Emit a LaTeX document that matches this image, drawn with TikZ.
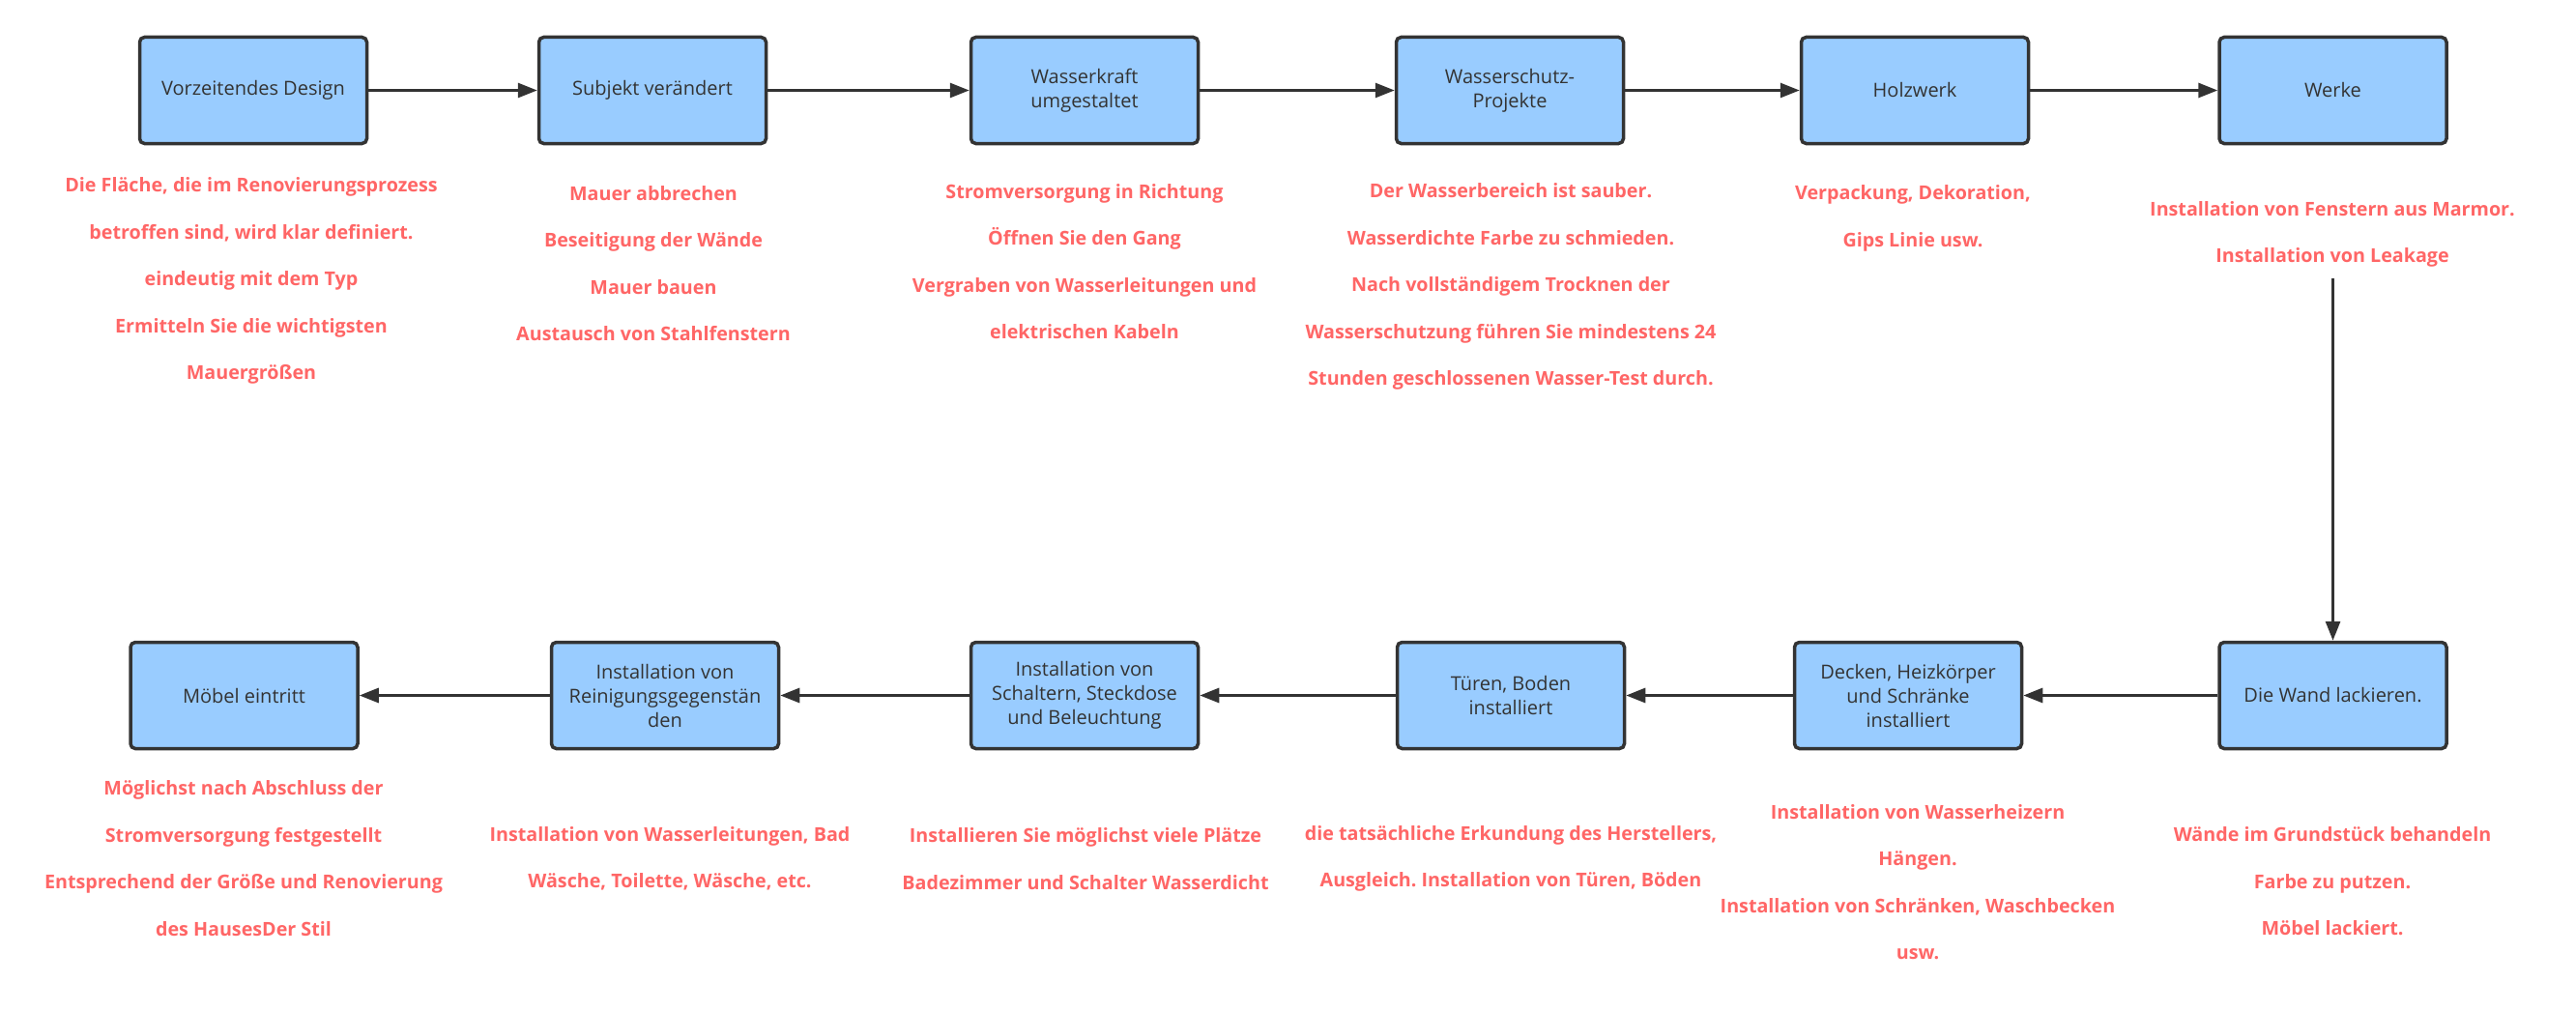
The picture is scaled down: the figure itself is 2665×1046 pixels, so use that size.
\documentclass[tikz,border=0pt]{standalone}
\usepackage{fontspec}
\setmainfont{Open Sans}
\usetikzlibrary{arrows.meta}
\definecolor{boxfill}{HTML}{99CCFF}
\definecolor{boxline}{HTML}{333333}
\definecolor{notered}{HTML}{FF6666}
\frenchspacing
\begin{document}
\begin{tikzpicture}[x=1pt,y=-1pt,
  stepbox/.style={draw=boxline, line width=3.5pt, fill=boxfill, rounded corners=5pt,
    minimum width=235pt, minimum height=110pt, inner sep=0pt, align=center,
    text=boxline, font=\fontsize{20}{25}\selectfont},
  note/.style={text=notered, align=center, inner sep=0pt,
    font=\bfseries\fontsize{19.7}{48.5}\selectfont},
  flow/.style={draw=boxline, line width=3pt, -{Triangle[length=20pt,width=15pt]}}]
\fill[white] (0,0) rectangle (2665,1046);
\useasboundingbox (0,0) rectangle (2665,1046);

% top row
\node[stepbox] (s1) at (262,93.5) {Vorzeitendes Design};
\node[stepbox] (s2) at (675,93.5) {Subjekt verändert};
\node[stepbox] (s3) at (1122,93.5) {Wasserkraft\\umgestaltet};
\node[stepbox] (s4) at (1562,93.5) {Wasserschutz-\\Projekte};
\node[stepbox] (s5) at (1981,93.5) {Holzwerk};
\node[stepbox] (s6) at (2413.5,93.5) {Werke};
% bottom row
\node[stepbox] (s7) at (2413.5,719.5) {Die Wand lackieren.};
\node[stepbox] (s8) at (1974,719.5) {Decken, Heizkörper\\und Schränke\\installiert};
\node[stepbox] (s9) at (1563,719.5) {Türen, Boden\\installiert};
\node[stepbox] (s10) at (1122,719.5) {Installation von\\Schaltern, Steckdose\\und Beleuchtung};
\node[stepbox] (s11) at (688,719.5) {Installation von\\Reinigungsgegenstän\\den};
\node[stepbox] (s12) at (252.5,719.5) {Möbel eintritt};

% notes
\node[note] (n1) at (260,290.5) {Die Fläche, die im Renovierungsprozess\\betroffen sind, wird klar definiert.\\eindeutig mit dem Typ\\Ermitteln Sie die wichtigsten\\Mauergrößen};
\node[note] (n2) at (676,272.5) {Mauer abbrechen\\Beseitigung der Wände\\Mauer bauen\\Austausch von Stahlfenstern};
\node[note] (n3) at (1122,270.5) {Stromversorgung in Richtung\\Öffnen Sie den Gang\\Vergraben von Wasserleitungen und\\elektrischen Kabeln};
\node[note] (n4) at (1563,296.5) {Der Wasserbereich ist sauber.\\Wasserdichte Farbe zu schmieden.\\Nach vollständigem Trocknen der\\Wasserschutzung führen Sie mindestens 24\\Stunden geschlossenen Wasser-Test durch.};
\node[note] (n5) at (1979,226) {Verpackung, Dekoration,\\Gips Linie usw.};
\node[note] (n6) at (2413,242.5) {Installation von Fenstern aus Marmor.\\Installation von Leakage};
\node[note] (n7) at (2413,912) {Wände im Grundstück behandeln\\Farbe zu putzen.\\Möbel lackiert.};
\node[note] (n8) at (1984,912.5) {Installation von Wasserheizern\\Hängen.\\Installation von Schränken, Waschbecken\\usw.};
\node[note] (n9) at (1563,888.5) {die tatsächliche Erkundung des Herstellers,\\Ausgleich. Installation von Türen, Böden};
\node[note] (n10) at (1123,888.5) {Installieren Sie möglichst viele Plätze\\Badezimmer und Schalter Wasserdicht};
\node[note] (n11) at (693,888.5) {Installation von Wasserleitungen, Bad\\Wäsche, Toilette, Wäsche, etc.};
\node[note] (n12) at (252,888) {Möglichst nach Abschluss der\\Stromversorgung festgestellt\\Entsprechend der Größe und Renovierung\\des HausesDer Stil};

\coordinate (down) at (2413.5,288);

% connectors
\draw[flow] (s1) -- (s2);
\draw[flow] (s2) -- (s3);
\draw[flow] (s3) -- (s4);
\draw[flow] (s4) -- (s5);
\draw[flow] (s5) -- (s6);
\draw[flow] (down) -- (s7.north);
\draw[flow] (s7) -- (s8);
\draw[flow] (s8) -- (s9);
\draw[flow] (s9) -- (s10);
\draw[flow] (s10) -- (s11);
\draw[flow] (s11) -- (s12);
\end{tikzpicture}
\end{document}
